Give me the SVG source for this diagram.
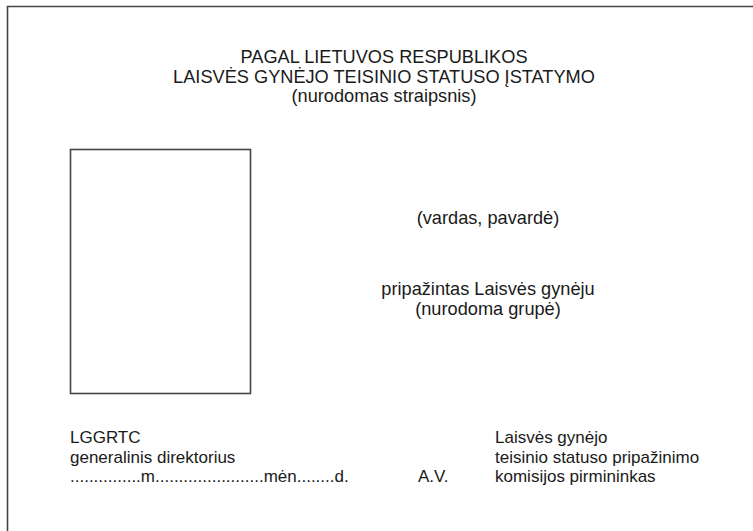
<svg xmlns="http://www.w3.org/2000/svg" width="753" height="531" viewBox="0 0 753 531">
<style>
text{font-family:"Liberation Sans",Arial,sans-serif;font-size:17px;fill:#1a1a1a}
.c{text-anchor:middle;font-size:18.2px}
.ln{fill:none;stroke:#444;stroke-width:1.6}
</style>
<rect width="753" height="531" fill="#fff"/>
<g id="border"><path class="ln" d="M7.5,540 V6.5 H760"/></g>
<g id="title">
<text class="c" x="384" y="63">PAGAL LIETUVOS RESPUBLIKOS</text>
<text class="c" x="384" y="83">LAISVĖS GYNĖJO TEISINIO STATUSO ĮSTATYMO</text>
<text class="c" x="384" y="102">(nurodomas straipsnis)</text>
</g>
<g id="photo"><rect class="ln" x="70.5" y="149.5" width="180" height="244"/></g>
<g id="name">
<text class="c" x="488" y="224">(vardas, pavardė)</text>
<text class="c" x="488" y="295">pripažintas Laisvės gynėju</text>
<text class="c" x="488" y="315">(nurodoma grupė)</text>
</g>
<g id="director">
<text x="70" y="443">LGGRTC</text>
<text x="70" y="463">generalinis direktorius</text>
<text x="70" y="482">...............m.......................mėn........d.</text>
</g>
<g id="stamp"><text x="418" y="482">A.V.</text></g>
<g id="chair">
<text x="495" y="443">Laisvės gynėjo</text>
<text x="495" y="463">teisinio statuso pripažinimo</text>
<text x="495" y="482">komisijos pirmininkas</text>
</g>
</svg>
